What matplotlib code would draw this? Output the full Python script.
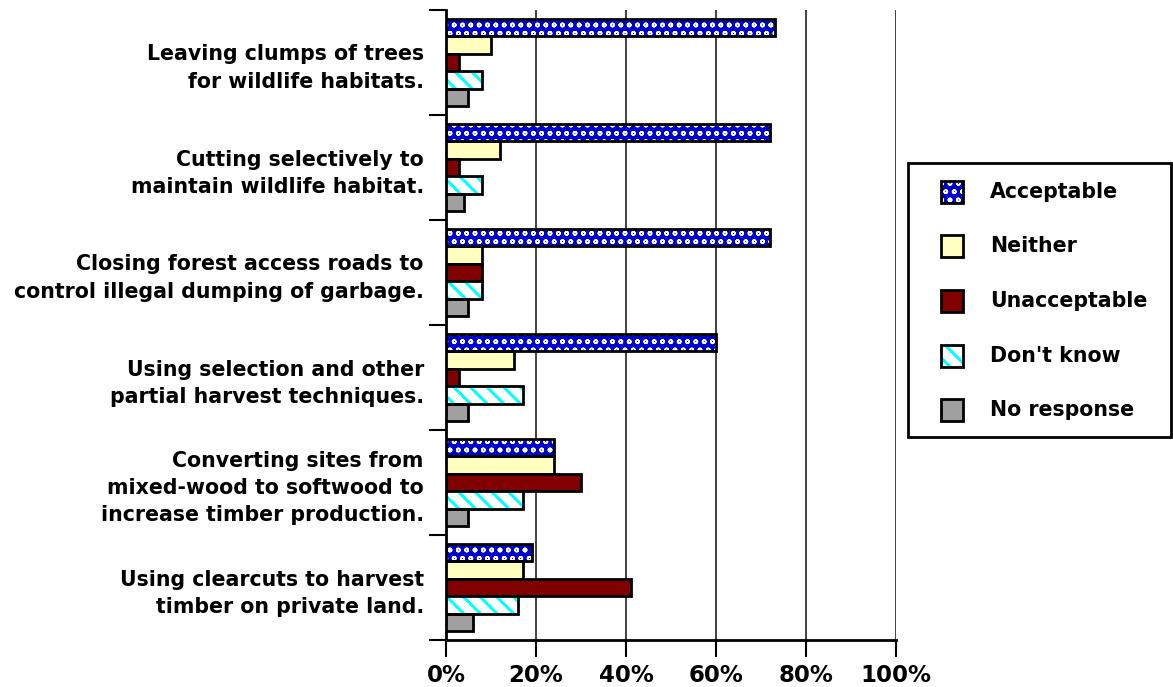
import matplotlib
matplotlib.use("Agg")
import matplotlib.pyplot as plt
from matplotlib.patches import Rectangle
import numpy as np

categories = [
    "Leaving clumps of trees\nfor wildlife habitats.",
    "Cutting selectively to\nmaintain wildlife habitat.",
    "Closing forest access roads to\ncontrol illegal dumping of garbage.",
    "Using selection and other\npartial harvest techniques.",
    "Converting sites from\nmixed-wood to softwood to\nincrease timber production.",
    "Using clearcuts to harvest\ntimber on private land.",
]
series_names = ["Acceptable", "Neither", "Unacceptable", "Don't know", "No response"]
acceptable = [73, 72, 72, 60, 24, 19]
neither = [10, 12, 8, 15, 24, 17]
unacceptable = [3, 3, 8, 3, 30, 41]
dont_know = [8, 8, 8, 17, 17, 16]
no_response = [5, 4, 5, 5, 5, 6]
x_ticks = [0, 20, 40, 60, 80, 100]
x_tick_labels = ["0%", "20%", "40%", "60%", "80%", "100%"]

series = [acceptable, neither, unacceptable, dont_know, no_response]
# facecolor, hatch, hatch colour, hatch linewidth
styles = [
    ("#0000CC", "oo", "white", 1.1),
    ("#FFFFC0", None, None, None),
    ("#800000", None, None, None),
    ("white", "\\\\", "#00FFFF", 2.2),
    ("#A0A0A0", None, None, None),
]

plt.rcParams["font.family"] = "DejaVu Sans"
plt.rcParams["font.weight"] = "bold"

fig = plt.figure(figsize=(11.73, 6.87), dpi=100)
ax = fig.add_axes([446 / 1173, 1 - 640 / 687, 450 / 1173, 630 / 687])

n = len(categories)
k = len(series)
bar_h = 1.0 / (k + 1)
y = np.arange(n)

for j, (vals, (fc, hatch, hc, hlw)) in enumerate(zip(series, styles)):
    pos = y + (j - (k - 1) / 2) * bar_h
    if hatch:
        with plt.rc_context({"hatch.linewidth": hlw}):
            ax.barh(pos, vals, height=bar_h, color=fc, edgecolor=hc, hatch=hatch,
                    linewidth=0, zorder=3)
        ax.barh(pos, vals, height=bar_h, fill=False, edgecolor="black",
                linewidth=2, zorder=4)
    else:
        ax.barh(pos, vals, height=bar_h, color=fc, edgecolor="black",
                linewidth=2, zorder=3)

ax.set_xlim(0, 100)
ax.set_ylim(n - 0.5, -0.5)

ax.set_xticks(x_ticks)
ax.set_xticklabels(x_tick_labels, fontsize=16.5, fontweight="bold")
ax.tick_params(axis="x", length=12, width=1.5, direction="out", pad=5)
ax.xaxis.grid(True, color="#333333", linewidth=1.3, zorder=0)

ax.set_yticks(y)
ax.set_yticklabels(categories, fontsize=14.8, fontweight="bold", linespacing=1.45)
ax.tick_params(axis="y", which="major", length=0, pad=16)
ax.set_yticks(np.arange(n + 1) - 0.5, minor=True)
ax.tick_params(axis="y", which="minor", length=12, width=1.5, direction="out")

for s in ["top", "right"]:
    ax.spines[s].set_visible(False)
ax.spines["left"].set_linewidth(2)
ax.spines["bottom"].set_linewidth(2)

# legend drawn in figure coordinates
W, H = 1173, 687
lx0, ly0, lx1, ly1 = 908, 163, 1171, 437
fig.patches.append(Rectangle((lx0 / W, 1 - ly1 / H), (lx1 - lx0) / W, (ly1 - ly0) / H,
                             transform=fig.transFigure, fill=False,
                             edgecolor="black", linewidth=2))
row_y = [192, 246, 301, 356, 410]
sw = 22
for name, (fc, hatch, hc, hlw), ry in zip(series_names, styles, row_y):
    x0 = 941
    rect = ((x0 / W, 1 - (ry + sw / 2) / H), sw / W, sw / H)
    if hatch:
        with plt.rc_context({"hatch.linewidth": hlw}):
            fig.patches.append(Rectangle(*rect, transform=fig.transFigure,
                                         facecolor=fc, edgecolor=hc, hatch=hatch,
                                         linewidth=0))
        fig.patches.append(Rectangle(*rect, transform=fig.transFigure, fill=False,
                                     edgecolor="black", linewidth=2))
    else:
        fig.patches.append(Rectangle(*rect, transform=fig.transFigure, facecolor=fc,
                                     edgecolor="black", linewidth=2))
    fig.text(990 / W, 1 - ry / H, name, fontsize=14.8, fontweight="bold",
             va="center", ha="left")

fig.savefig("out.png", dpi=100)
